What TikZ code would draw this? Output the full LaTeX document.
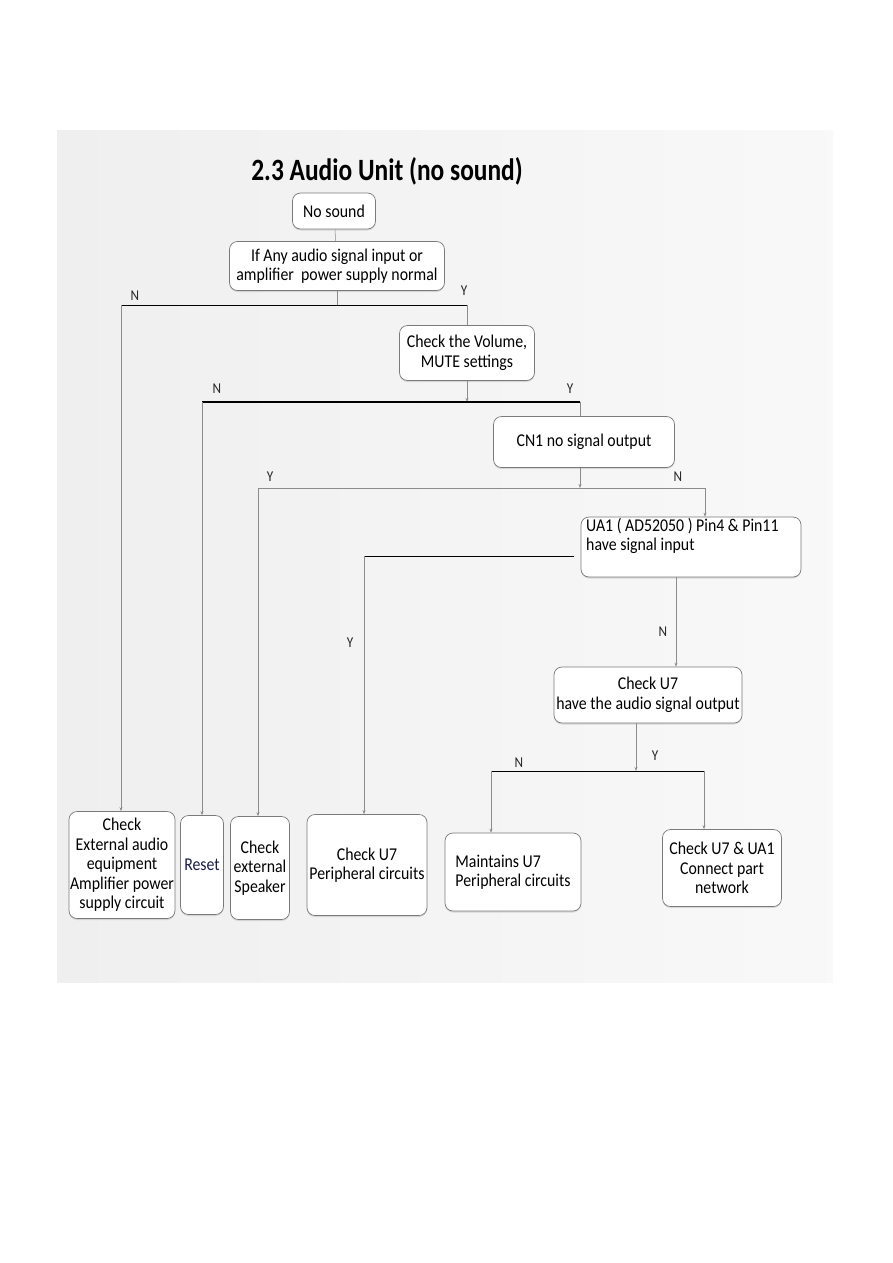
\documentclass[tikz,border=0pt]{standalone}
\usepackage{fontspec}
\setmainfont{Carlito}[FakeStretch=0.88]
\newfontfamily\titlefont{Carlito}[FakeStretch=0.82]
\usepackage{xcolor}
\definecolor{aubox}{HTML}{7A7A7A}
\definecolor{auline}{HTML}{8C8C8C}
\definecolor{aupanel}{HTML}{EFEFEF}
\definecolor{aunavy}{HTML}{1C1C4A}
\usepackage{tikz}
\usetikzlibrary{arrows.meta, positioning, shadows, calc}

\begin{document}
\begin{tikzpicture}[
  x=1pt, y=-1pt,
  box/.style={rectangle, rounded corners=8pt,
    draw=aubox, fill=white, line width=0.7pt,
    drop shadow={opacity=0.25, shadow xshift=0pt, shadow yshift=-1.5pt},
    align=center, inner sep=1pt,
    font=\fontsize{18}{19.5}\selectfont},
  arr/.style={-{Stealth[length=4pt, width=3pt]}, line width=0.5pt, color=auline},
  vline/.style={line width=0.5pt, color=auline},
  hline/.style={line width=0.8pt, color=black},
  lbl/.style={font=\fontsize{15}{17}\selectfont, text=black!85}
]
  \useasboundingbox (0,0) rectangle (892,1263);
  \shade[left color=aupanel, right color=aupanel!40] (57,130) rectangle (833,982);

  \node[font=\titlefont\bfseries\fontsize{31}{34}\selectfont] (title) at (387,171)
    {2.3 Audio Unit (no sound)};

  % upper chain
  \node[box, minimum width=83pt, minimum height=36pt] (nosound) at (334,211) {No sound};
  \node[box, minimum width=215pt, minimum height=49pt] (ifany) at (337,266)
    {If Any audio signal input or\\amplifier\ \ power supply normal};
  \node[box, minimum width=135pt, minimum height=55pt] (volume) at (467,353)
    {Check the Volume,\\MUTE settings};
  \node[box, minimum width=181pt, minimum height=51pt] (cnone) at (584,442)
    {CN1 no signal output};
  \node[box, minimum width=220pt, minimum height=60pt] (uaone) at (691,547) {};
  \node[anchor=north west, align=left, inner sep=0pt,
    font=\fontsize{18}{19.5}\selectfont] (uatext) at (586,518)
    {UA1 ( AD52050 ) Pin4 \& Pin11\\have signal input};
  \node[box, minimum width=188pt, minimum height=56pt] (checkuseven) at (648,695)
    {Check U7\\have the audio signal output};

  % bottom row
  \node[box, minimum width=105pt, minimum height=107pt] (checkext) at (122,865)
    {Check\\External audio\\equipment\\Amplifier power\\supply circuit};
  \node[box, minimum width=43pt, minimum height=99pt, text=aunavy] (reset) at (202,865)
    {Reset};
  \node[box, minimum width=59pt, minimum height=103pt] (speaker) at (260,868)
    {Check\\external\\Speaker};
  \node[box, minimum width=120pt, minimum height=101pt] (periph) at (367,865)
    {Check U7\\Peripheral circuits};
  \node[box, minimum width=136pt, minimum height=78pt, align=left] (maintain) at (513,872)
    {Maintains U7\\Peripheral circuits};
  \node[box, minimum width=119pt, minimum height=77pt] (connect) at (722,868)
    {Check U7 \& UA1\\Connect part\\network};

  % junctions
  \coordinate (jA) at (ifany.south |- 0,305);
  \coordinate (jAl) at (121,305);
  \coordinate (jAr) at (467,305);
  \coordinate (jB) at (volume.south |- 0,402);
  \coordinate (jBl) at (202,402);
  \coordinate (jBr) at (580,402);
  \coordinate (jC) at (580,488);
  \coordinate (jCl) at (258,488);
  \coordinate (jCr) at (705,488);
  \coordinate (jDr) at (574,556);
  \coordinate (jDl) at (364,556);
  \coordinate (jE) at (636,771);
  \coordinate (jEl) at (491,771);
  \coordinate (jEr) at (704,771);

  \draw[vline] (nosound) -- (ifany);
  \draw[vline] (ifany) -- (jA);
  \draw[hline] (jAl) -- (jAr);
  \draw[arr] (jAl) -- (jAl |- checkext.north);
  \draw[vline] (jAr) -- (jAr |- volume.north);
  \node[lbl] (nA) at (135,296) {N};
  \node[lbl] (yA) at (464,291) {Y};

  \draw[arr] (volume) -- (jB);
  \draw[hline, line width=2pt] (jBl) -- (jBr);
  \draw[vline] (jBr) -- (jBr |- cnone.north);
  \draw[arr] (jBl) -- (jBl |- reset.north);
  \node[lbl] (nB) at (217,389) {N};
  \node[lbl] (yB) at (570,389) {Y};

  \draw[arr] (cnone.south -| jC) -- (jC);
  \draw[vline] (jCl) -- (jCr);
  \draw[arr] (jCr) -- (jCr |- uaone.north);
  \draw[arr] (jCl) -- (jCl |- speaker.north);
  \node[lbl] (yC) at (270,477) {Y};
  \node[lbl] (nC) at (678,477) {N};

  \draw[hline] (jDr) -- (jDl);
  \draw[arr] (jDl) -- (jDl |- periph.north);
  \node[lbl] (yD) at (350,643) {Y};

  \draw[arr] (uaone.south -| 676,0) -- (checkuseven.north -| 676,0);
  \node[lbl] (nD) at (663,632) {N};

  \draw[arr] (checkuseven.south -| jE) -- (jE);
  \draw[hline] (jEl) -- (jEr);
  \draw[arr] (jEl) -- (jEl |- maintain.north);
  \draw[arr] (jEr) -- (jEr |- connect.north);
  \node[lbl] (nE) at (519,763) {N};
  \node[lbl] (yE) at (655,756) {Y};
\end{tikzpicture}
\end{document}
